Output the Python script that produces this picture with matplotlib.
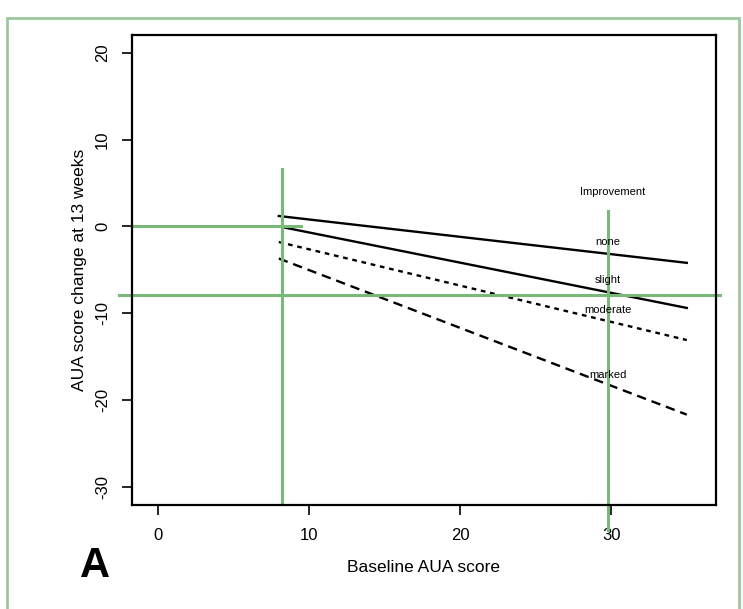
import matplotlib.pyplot as plt
from matplotlib.patches import Rectangle

plt.rcParams['font.family'] = ['Liberation Sans', 'DejaVu Sans']
plt.rcParams['axes.unicode_minus'] = False

# fitted lines, baseline score 8 to 35
baseline = [8, 35]
none = [1.2, -4.2]
slight = [0.0, -9.4]
moderate = [-1.8, -13.1]
marked = [-3.7, -21.7]

groups = ['none', 'slight', 'moderate', 'marked']
label_y = [-1.8, -6.2, -9.6, -17.1]

# green reference lines drawn over the figure
vlines = [(8.2, -32.0, 6.6), (29.8, -35.0, 1.8)]
hlines = [(0.0, -1.7, 9.5), (-7.9, -2.6, 37.2)]

green = '#7ab87a'

fig = plt.figure(figsize=(7.43, 6.09), dpi=100)
fig.patches.append(Rectangle((0.01, -0.02), 0.985, 0.99, transform=fig.transFigure,
                             fill=False, edgecolor='#9cc79c', linewidth=2))
ax = fig.add_axes([0.178, 0.171, 0.785, 0.772])

ax.plot(baseline, none, color='black', lw=1.7, ls='-')
ax.plot(baseline, slight, color='black', lw=1.7, ls='-')
ax.plot(baseline, moderate, color='black', lw=1.7, ls=(0, (2, 2)))
ax.plot(baseline, marked, color='black', lw=1.7, ls=(0, (4, 2.5)))

ax.text(30.1, 4.0, 'Improvement', fontsize=8, ha='center', va='center')
for g, yy in zip(groups, label_y):
    ax.text(29.8, yy, g, fontsize=8, ha='center', va='center')

for x, y0, y1 in vlines:
    ax.plot([x, x], [y0, y1], color=green, lw=2.2, clip_on=False)
for y, x0, x1 in hlines:
    ax.plot([x0, x1], [y, y], color=green, lw=2.2, clip_on=False)

ax.set_xlim(-1.7, 36.9)
ax.set_ylim(-32.1, 22.1)
ax.set_xticks([0, 10, 20, 30])
ax.set_yticks([-30, -20, -10, 0, 10, 20])
ax.tick_params(direction='out', length=7, width=1.2, labelsize=12)
ax.tick_params(axis='x', pad=10)
ax.tick_params(axis='y', pad=9)
for lab in ax.get_yticklabels():
    lab.set_rotation(90)
    lab.set_va('center')
for s in ax.spines.values():
    s.set_linewidth(1.6)

ax.set_xlabel('Baseline AUA score', fontsize=12.5, labelpad=12)
ax.set_ylabel('AUA score change at 13 weeks', fontsize=12.5, labelpad=6)
fig.text(0.108, 0.037, 'A', fontsize=30, fontweight='bold', ha='left', va='bottom')

fig.savefig('out.png', dpi=100)
